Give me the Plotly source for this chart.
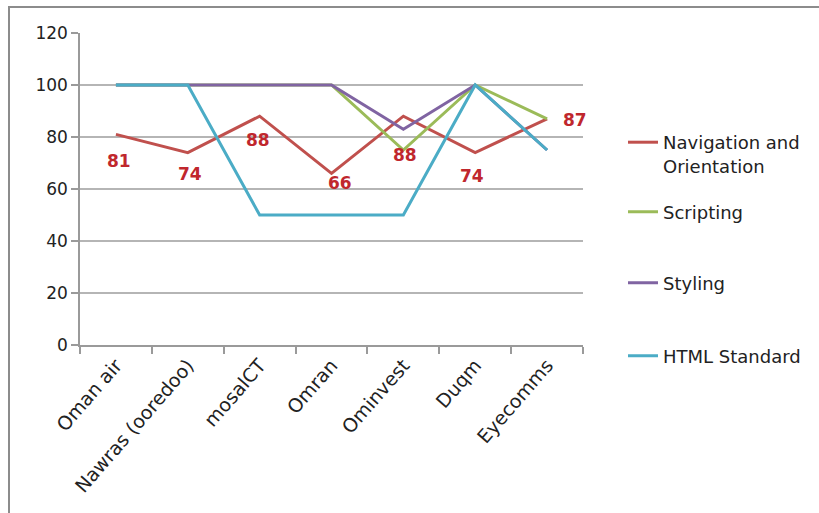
import plotly.graph_objects as go

categories = ["Oman air", "Nawras (ooredoo)", "mosalCT", "Omran", "Ominvest", "Duqm", "Eyecomms"]
navigation = [81, 74, 88, 66, 88, 74, 87]
scripting = [100, 100, 100, 100, 75, 100, 87]
styling = [100, 100, 100, 100, 83, 100, 75]
html_standard = [100, 100, 50, 50, 50, 100, 75]

series_names = ["Navigation and<br>Orientation", "Scripting", "Styling", "HTML Standard"]
series_values = [navigation, scripting, styling, html_standard]
colors = ["#C0504D", "#9BBB59", "#8064A2", "#4BACC6"]
legend_ids = ["legend", "legend2", "legend3", "legend4"]
legend_y_px = [154, 212, 283, 356]

# pixel offsets of the navigation data labels
label_shift = [(3, -27), (2, -21), (-2, -24), (8, -10), (2, -39), (-3, -23), (28, -1)]

FONT = "DejaVu Sans"
L, R, T, B = 80, 583, 33, 345
W, H = 819, 513

fig = go.Figure()
for name, vals, col, lg in zip(series_names, series_values, colors, legend_ids):
    fig.add_trace(go.Scatter(
        x=categories, y=vals, name=name, mode="lines",
        line=dict(color=col, width=3), legend=lg,
    ))

for cat, v, (dx, dy) in zip(categories, navigation, label_shift):
    fig.add_annotation(x=cat, y=v, text=f"<b>{v}</b>", showarrow=False,
                       xshift=dx, yshift=dy,
                       font=dict(family=FONT, size=17, color="#C0272D"))

def px_to_paper_x(px):
    return (px - L) / (R - L)

def px_to_paper_y(py):
    return (B - py) / (B - T)

legend_layout = {}
for lg, py in zip(legend_ids, legend_y_px):
    legend_layout[lg] = dict(
        x=px_to_paper_x(623), y=px_to_paper_y(py), xanchor="left", yanchor="middle",
        valign="top", bgcolor="rgba(0,0,0,0)", borderwidth=0,
        font=dict(family=FONT, size=18, color="#222222"),
        itemwidth=30, tracegroupgap=0,
    )

fig.update_layout(
    width=W, height=H,
    margin=dict(l=L, r=W - R, t=T, b=H - B),
    paper_bgcolor="white", plot_bgcolor="white",
    font=dict(family=FONT, size=17, color="#222222"),
    showlegend=True,
    **legend_layout,
)

fig.update_xaxes(
    type="category", range=[-0.5, 6.5], tickson="boundaries",
    showgrid=False, showline=True, linecolor="#9a9a9a", linewidth=1.5,
    ticks="outside", ticklen=7, tickcolor="#9a9a9a", tickwidth=1.5,
    tickangle=-49, tickfont=dict(family=FONT, size=19, color="#222222"),
)
fig.update_yaxes(
    range=[0, 120], dtick=20, showgrid=True, gridcolor="#b5b5b5", gridwidth=1.5,
    showline=True, linecolor="#9a9a9a", linewidth=1.5, zeroline=False,
    ticks="outside", ticklen=7, tickcolor="#9a9a9a", tickwidth=1.5,
    tickfont=dict(family=FONT, size=17, color="#222222"),
)

fig.add_shape(type="rect", xref="paper", yref="paper", layer="below",
              x0=px_to_paper_x(9), x1=px_to_paper_x(840),
              y0=px_to_paper_y(7), y1=px_to_paper_y(540),
              line=dict(color="#8c8c8c", width=2), fillcolor="rgba(0,0,0,0)")

fig.write_html("out.html")
